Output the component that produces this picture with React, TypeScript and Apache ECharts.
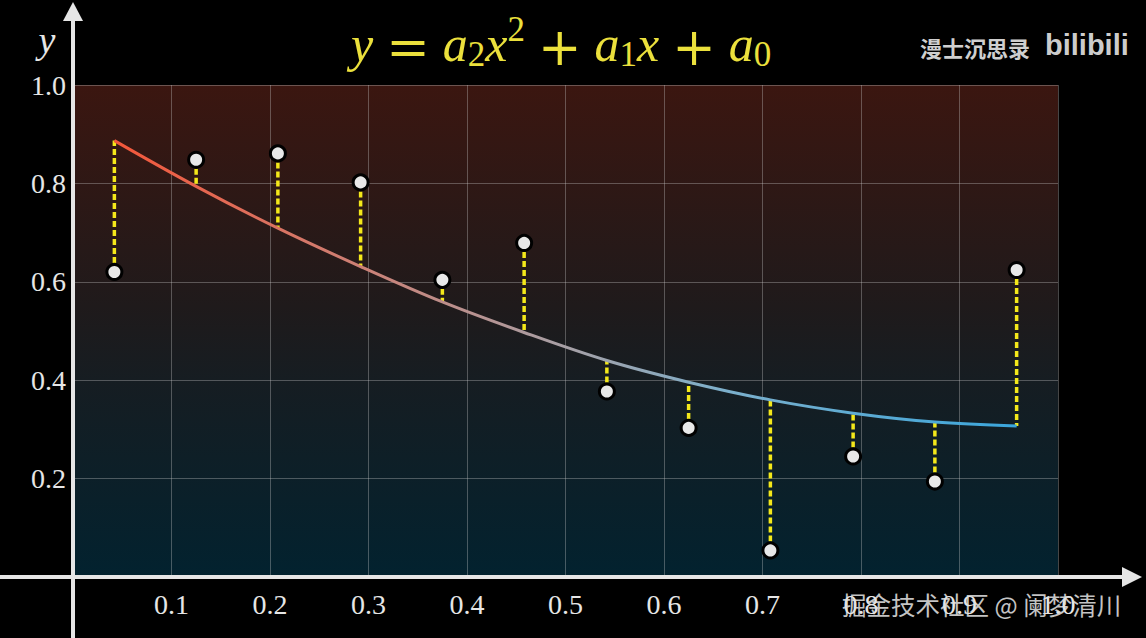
import React, { useEffect, useRef } from 'react';
import * as echarts from 'echarts';

const X_VALUES = [0.042, 0.125, 0.208, 0.292, 0.375, 0.458, 0.542, 0.625, 0.708, 0.792, 0.875, 0.958];
const Y_OBSERVED = [0.62, 0.848, 0.861, 0.802, 0.604, 0.679, 0.377, 0.303, 0.054, 0.245, 0.194, 0.624];
const Y_FITTED = [0.887, 0.794, 0.709, 0.631, 0.559, 0.497, 0.44, 0.396, 0.36, 0.333, 0.315, 0.307];

const TITLE_TOKENS = '{i|y}{o|=}{i|a}{sub|2}{i|x}{sup|2}{o|+}{i|a}{sub|1}{i|x}{o|+}{i|a}{sub|0}';
const Y_LABEL = 'y';
const WATERMARK_TOP = '漫士沉思录';
const WATERMARK_LOGO = 'bilibili';
const WATERMARK_BOTTOM = '掘金技术社区 @ 阑梦清川';

const YELLOW = '#ebe03c';
const AXIS_WHITE = '#e6e6e6';

export default function App() {
  const ref = useRef<HTMLDivElement>(null);

  useEffect(() => {
    const chart = echarts.init(ref.current as HTMLDivElement, null, { renderer: 'svg' });
    const fitData = X_VALUES.map((x, i) => [x, Y_FITTED[i]]);
    const obsData = X_VALUES.map((x, i) => [x, Y_OBSERVED[i]]);
    const resData = X_VALUES.map((x, i) => [x, Y_OBSERVED[i], Y_FITTED[i]]);

    const option: any = {
      animation: false,
      backgroundColor: '#000',
      grid: {
        left: 73,
        top: 85,
        width: 985,
        height: 492,
        show: true,
        borderWidth: 0,
        backgroundColor: {
          type: 'linear', x: 0, y: 0, x2: 0, y2: 1,
          colorStops: [
            { offset: 0, color: '#3b1610' },
            { offset: 0.45, color: '#1f1a1b' },
            { offset: 0.6, color: '#161d22' },
            { offset: 1, color: '#02222f' },
          ],
        },
      },
      xAxis: {
        type: 'value', min: 0, max: 1, interval: 0.1,
        axisLine: { show: false }, axisTick: { show: false },
        splitLine: { show: true, lineStyle: { color: 'rgba(200,200,200,0.35)', width: 1 } },
        axisLabel: {
          margin: 13,
          color: AXIS_WHITE, fontFamily: 'Liberation Serif', fontSize: 28,
          formatter: (v: number) => (v === 0 ? '' : v.toFixed(1)),
        },
      },
      yAxis: {
        type: 'value', min: 0, max: 1, interval: 0.2,
        axisLine: { show: false }, axisTick: { show: false },
        splitLine: { show: true, lineStyle: { color: 'rgba(200,200,200,0.35)', width: 1 } },
        axisLabel: {
          margin: 7,
          color: AXIS_WHITE, fontFamily: 'Liberation Serif', fontSize: 28,
          formatter: (v: number) => (v === 0 ? '' : v.toFixed(1)),
        },
      },
      series: [
        {
          type: 'custom',
          z: 2,
          data: resData,
          encode: { x: 0, y: [1, 2] },
          renderItem: (params: any, api: any) => {
            const p1 = api.coord([api.value(0), api.value(1)]);
            const p2 = api.coord([api.value(0), api.value(2)]);
            return {
              type: 'line',
              shape: { x1: p1[0], y1: p1[1], x2: p2[0], y2: p2[1] },
              style: { stroke: '#f4e81a', lineWidth: 3.5, lineDash: [6, 3] },
            };
          },
        },
        {
          type: 'line',
          z: 3,
          data: fitData,
          smooth: 0.35,
          showSymbol: false,
          lineStyle: {
            width: 3,
            color: new echarts.graphic.LinearGradient(0, 0, 1, 0, [
              { offset: 0, color: '#f4573a' },
              { offset: 0.3, color: '#c8857c' },
              { offset: 0.5, color: '#a7a0a6' },
              { offset: 0.68, color: '#7cb0cc' },
              { offset: 1, color: '#3aa6dc' },
            ]),
          },
        },
        {
          type: 'scatter',
          z: 4,
          data: obsData,
          symbolSize: 15,
          itemStyle: { color: '#e8e8e8', borderColor: '#000', borderWidth: 3, opacity: 1 },
        },
      ],
      graphic: [
        { type: 'line', shape: { x1: 73, y1: 638, x2: 73, y2: 18 }, style: { stroke: AXIS_WHITE, lineWidth: 4 }, z: 10 },
        { type: 'polygon', shape: { points: [[63, 21], [83, 21], [73, 2]] }, style: { fill: AXIS_WHITE }, z: 10 },
        { type: 'line', shape: { x1: 0, y1: 577, x2: 1124, y2: 577 }, style: { stroke: AXIS_WHITE, lineWidth: 4 }, z: 10 },
        { type: 'polygon', shape: { points: [[1122, 567], [1122, 587], [1142, 577]] }, style: { fill: AXIS_WHITE }, z: 10 },
        {
          type: 'text', x: 47, y: 40, z: 10,
          style: { text: Y_LABEL, fill: AXIS_WHITE, fontFamily: 'Liberation Serif', fontStyle: 'italic', fontSize: 38, align: 'center', verticalAlign: 'middle' },
        },
        {
          type: 'text', x: 351, y: 43.5, z: 10,
          style: {
            text: TITLE_TOKENS,
            align: 'left',
            verticalAlign: 'middle',
            fill: YELLOW,
            rich: {
              i: { fill: YELLOW, fontFamily: 'Liberation Serif', fontStyle: 'italic', fontSize: 50, lineHeight: 64, verticalAlign: 'middle' },
              o: { fill: YELLOW, fontFamily: 'DejaVu Serif', fontSize: 52, lineHeight: 52, verticalAlign: 'middle', padding: [6, 13, 0, 13] },
              sup: { fill: YELLOW, fontFamily: 'Liberation Serif', fontSize: 35, lineHeight: 35, verticalAlign: 'top' },
              sub: { fill: YELLOW, fontFamily: 'Liberation Serif', fontSize: 35, lineHeight: 35, verticalAlign: 'bottom', padding: [0, 0, 4, 0] },
            },
          },
        },
        {
          type: 'text', x: 920, y: 47, z: 10,
          style: { text: WATERMARK_TOP, fill: '#cfcfcf', fontFamily: 'Noto Sans CJK SC', fontWeight: 'bold', fontSize: 22, align: 'left', verticalAlign: 'middle' },
        },
        {
          type: 'text', x: 1045, y: 45, z: 10,
          style: { text: WATERMARK_LOGO, fill: '#cccccc', fontFamily: 'Liberation Sans', fontWeight: 'bold', fontSize: 29, align: 'left', verticalAlign: 'middle' },
        },
        {
          type: 'text', x: 842, y: 604, z: 10,
          style: { text: WATERMARK_BOTTOM, fill: 'rgba(225,225,225,0.88)', fontFamily: 'Noto Sans CJK SC', fontSize: 24.5, align: 'left', verticalAlign: 'middle' },
        },
      ],
    };

    chart.setOption(option);
    return () => chart.dispose();
  }, []);

  return (
    <div
      ref={ref}
      style={{ position: 'fixed', left: 0, top: 0, width: 1146, height: 638, background: '#000' }}
    />
  );
}
